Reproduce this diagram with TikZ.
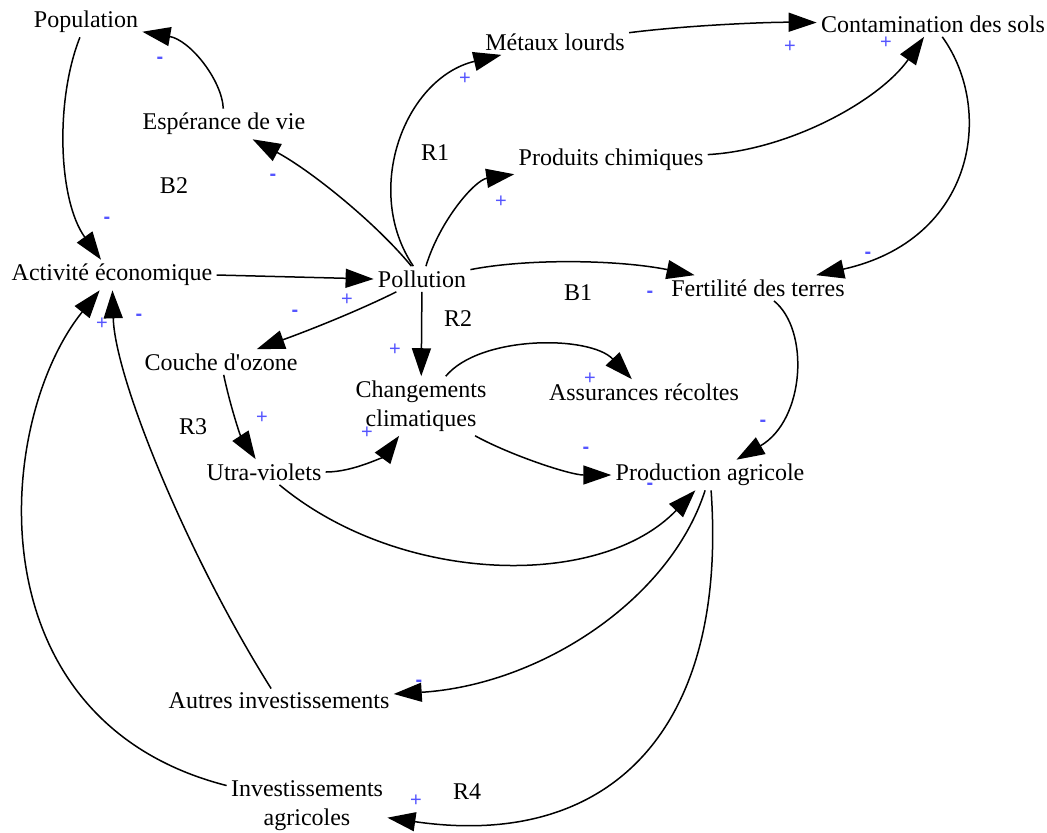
\documentclass[tikz,border=0pt]{standalone}
\usepackage{fontspec}
\setmainfont{Liberation Serif}
\newfontfamily\signfont{Liberation Sans}
\usepackage{tikz}
\usetikzlibrary{arrows.meta}
\usepackage{xcolor}
\definecolor{signblue}{RGB}{85,85,255}
\newcommand{\possign}[3] {
    \node[sign] (#1) at (#2, #3) {+};
}
\newcommand{\negsign}[3] {
    \node[sign] (#1) at (#2, #3) {\textbf{-}};
}
\tikzset{
    var/.style={
        inner sep=2pt,
        align=center,
        font=\fontsize{12}{14.5}\selectfont
    },
    loopname/.style={inner sep=0pt,font=\fontsize{12}{13.5}\selectfont},
    sign/.style={inner sep=0pt,text=signblue,font=\signfont\fontsize{10}{10}\selectfont},
    link/.style={-{Triangle[length=14pt,width=9.5pt]},line width=0.75pt}
}

\begin{document}
\begin{tikzpicture}[x=0.5pt,y=-0.5pt]
    \useasboundingbox (0,0) rectangle (1047,832);
    % variables
    \node[var] (pop)    at (86, 22)   {Population};
    \node[var] (esp)    at (224, 124) {Espérance de vie};
    \node[var] (met)    at (555, 42)  {Métaux lourds};
    \node[var] (cont)   at (933, 24)  {Contamination des sols};
    \node[var] (chim)   at (611, 160) {Produits chimiques};
    \node[var] (act)    at (112, 275) {Activité économique};
    \node[var] (pol)    at (422, 279) {Pollution};
    \node[var] (fert)   at (758, 288) {Fertilité des terres};
    \node[var] (ozone)  at (221, 362) {Couche d\textquotesingle ozone};
    \node[var] (clim)   at (421, 406) {Changements\\climatiques};
    \node[var] (assur)  at (644, 392) {Assurances récoltes};
    \node[var] (uv)     at (264, 472) {Utra-violets};
    \node[var] (agri)   at (710, 475) {Production agricole};
    \node[var] (autres) at (279, 701) {Autres investissements};
    \node[var] (invest) at (307, 806) {Investissements\\agricoles};
    % loops
    \node[loopname] (b2) at (174, 186) {B2};
    \node[loopname] (r1) at (435, 153) {R1};
    \node[loopname] (b1) at (578, 293) {B1};
    \node[loopname] (r2) at (458, 319) {R2};
    \node[loopname] (r3) at (193, 427) {R3};
    \node[loopname] (r4) at (467, 792) {R4};
    % links
    \draw[link] (esp) .. controls (222, 80) and (190, 40) .. (pop);
    \draw[link] (pop) .. controls (55, 100) and (58, 200) .. (act);
    \draw[link] (pol) .. controls (375, 222) and (310, 170) .. (esp);
    \draw[link] (pol) .. controls (362, 190) and (405, 78) .. (met);
    \draw[link] (pol) .. controls (440, 220) and (475, 180) .. (chim);
    \draw[link] (met) .. controls (690, 25) and (770, 22) .. (cont);
    \draw[link] (chim) .. controls (790, 150) and (880, 100) .. (cont);
    \draw[link] (cont) .. controls (995, 110) and (975, 240) .. (fert);
    \draw[link] (pol) .. controls (530, 258) and (620, 260) .. (fert);
    \draw[link] (act.east) -- (pol.west);
    \draw[link] (pol) .. controls (360, 310) and (310, 330) .. (ozone);
    \draw[link] (pol) -- (clim);
    \draw[link] (clim) .. controls (480, 335) and (590, 335) .. (assur);
    \draw[link] (ozone) .. controls (230, 405) and (240, 435) .. (uv);
    \draw[link] (uv) .. controls (355, 472) and (385, 455) .. (clim);
    \draw[link] (clim) .. controls (510, 455) and (570, 475) .. (agri);
    \draw[link] (fert) .. controls (810, 330) and (805, 420) .. (agri);
    \draw[link] (uv) .. controls (400, 585) and (600, 590) .. (agri);
    \draw[link] (agri) .. controls (670, 600) and (540, 685) .. (autres);
    \draw[link] (agri) .. controls (728, 730) and (610, 850) .. (invest);
    \draw[link] (autres) .. controls (190, 560) and (115, 380) .. (act);
    \draw[link] (invest) .. controls (-30, 720) and (-5, 420) .. (act);
    % polarities
    \negsign{s1}{160}{60}
    \negsign{s2}{107}{220}
    \negsign{s3}{273}{177}
    \possign{s4}{465}{79}
    \possign{s5}{501}{202}
    \possign{s6}{790}{47}
    \possign{s7}{886}{43}
    \negsign{s8}{868}{255}
    \negsign{s9}{650}{294}
    \possign{s10}{347}{300}
    \negsign{s11}{295}{313}
    \possign{s12}{102}{324}
    \negsign{s13}{139}{317}
    \possign{s14}{395}{350}
    \possign{s15}{590}{379}
    \possign{s16}{262}{418}
    \possign{s17}{367}{433}
    \negsign{s18}{763}{423}
    \negsign{s19}{586}{450}
    \negsign{s20}{650}{486}
    \negsign{s21}{419}{683}
    \possign{s22}{416}{801}
\end{tikzpicture}
\end{document}
